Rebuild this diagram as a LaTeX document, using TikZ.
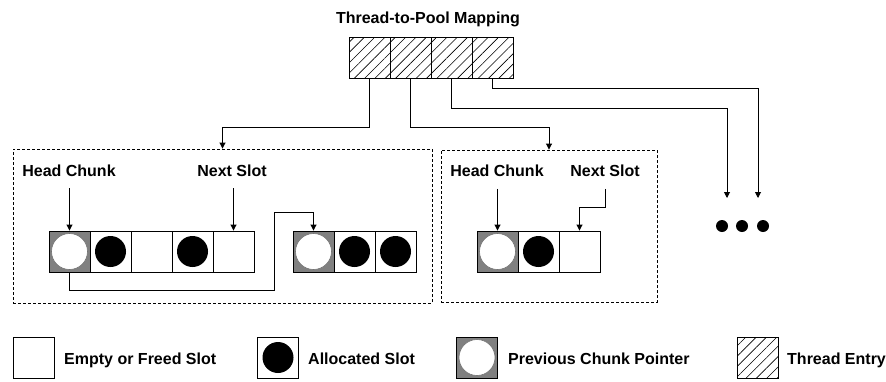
\documentclass[tikz,border=0pt]{standalone}
\usepackage{fontspec}
\setmainfont{Liberation Sans}
\usetikzlibrary{arrows.meta,patterns.meta}
\begin{document}
\begin{tikzpicture}[x=1pt,y=-1pt,
  lbl/.style={font=\bfseries\fontsize{16}{19}\selectfont, inner sep=0pt, anchor=base},
  lgd/.style={lbl, anchor=base west},
  slot/.style={draw, line width=0.9pt, minimum size=41pt, inner sep=0pt, fill=white},
  prevslot/.style={slot, fill=black!50},
  hatched/.style={draw, line width=0.9pt, minimum size=41pt, inner sep=0pt,
    pattern={Lines[angle=45,distance=7.3pt,line width=0.6pt]}},
  freering/.style={circle, fill=white, draw=black!55, line width=0.6pt, minimum size=36pt, inner sep=0pt},
  usedball/.style={circle, fill=black, minimum size=31pt, inner sep=0pt},
  pool/.style={draw, dash pattern=on 3pt off 2pt, line width=0.9pt, inner sep=0pt},
  link/.style={draw, line width=0.9pt, -{Triangle[length=6pt,width=6pt]}},
  dot/.style={circle, fill=black, minimum size=12pt, inner sep=0pt},
]
\fill[white] (0,0) rectangle (886,381);
\useasboundingbox (0,0) rectangle (886,381);

% thread-to-pool mapping table
\node[lbl] (title) at (428,23.5) {Thread-to-Pool Mapping};
\node[hatched] (m1) at (369.5,57.5) {};
\node[hatched] (m2) at (410.5,57.5) {};
\node[hatched] (m3) at (451.5,57.5) {};
\node[hatched] (m4) at (492.5,57.5) {};

% pool frames
\node[pool, minimum width=419pt, minimum height=154pt] (pool1) at (222.5,226) {};
\node[pool, minimum width=216pt, minimum height=152pt] (pool2) at (549,226) {};

% first pool: head chunk
\node[prevslot] (a1) at (69.5,251.5) {};
\node[slot] (a2) at (110.5,251.5) {};
\node[slot] (a3) at (151.5,251.5) {};
\node[slot] (a4) at (192.5,251.5) {};
\node[slot] (a5) at (233.5,251.5) {};
\node[freering] (a1c) at (a1) {};
\node[usedball] (a2c) at (a2) {};
\node[usedball] (a4c) at (a4) {};

% first pool: previous chunk
\node[prevslot] (b1) at (313.5,251.5) {};
\node[slot] (b2) at (354.5,251.5) {};
\node[slot] (b3) at (395.5,251.5) {};
\node[freering] (b1c) at (b1) {};
\node[usedball] (b2c) at (b2) {};
\node[usedball] (b3c) at (b3) {};

% second pool
\node[prevslot] (c1) at (497.5,251.5) {};
\node[slot] (c2) at (538.5,251.5) {};
\node[slot] (c3) at (579.5,251.5) {};
\node[freering] (c1c) at (c1) {};
\node[usedball] (c2c) at (c2) {};

% pointer labels
\node[lbl] (hc1) at (69,176) {Head Chunk};
\node[lbl] (ns1) at (232,176) {Next Slot};
\node[lbl] (hc2) at (497,176.5) {Head Chunk};
\node[lbl] (ns2) at (605,176.5) {Next Slot};

% further pools
\node[dot] (d1) at (722,226) {};
\node[dot] (d2) at (742,226) {};
\node[dot] (d3) at (763,226) {};
\coordinate (e3) at (727,198);
\coordinate (e4) at (758,198);

% mapping connectors
\draw[link] (m1.south) -- (m1.south |- 0,127) -| (pool1.north);
\draw[link] (m2.south) -- (m2.south |- 0,127) -| (pool2.north);
\draw[link] (m3.south) -- (m3.south |- 0,108) -| (e3);
\draw[link] (m4.south) -- (m4.south |- 0,88) -| (e4);

% pointers
\draw[link] (a1.north |- hc1.south) ++(0,12) -- (a1.north);
\draw[link] (a5.north |- ns1.south) ++(0,12) -- (a5.north);
\draw[link] (c1.north |- hc2.south) ++(0,12) -- (c1.north);
\draw[link] (ns2.south) ++(0,12) |- (c3.north |- 0,207) -- (c3.north);
\draw[link] (a1.south) |- (274,290) |- (b1.north |- 0,212) -- (b1.north);

% legend
\node[slot] (k1) at (33.5,357.5) {};
\node[lgd] (t1) at (64,364) {Empty or Freed Slot};
\node[slot] (k2) at (278,357.5) {};
\node[usedball] (k2c) at (k2) {};
\node[lgd] (t2) at (308,364) {Allocated Slot};
\node[prevslot] (k3) at (477,357.5) {};
\node[freering] (k3c) at (k3) {};
\node[lgd] (t3) at (508,364) {Previous Chunk Pointer};
\node[hatched] (k4) at (757.5,357.5) {};
\node[lgd] (t4) at (787,364) {Thread Entry};
\end{tikzpicture}
\end{document}
